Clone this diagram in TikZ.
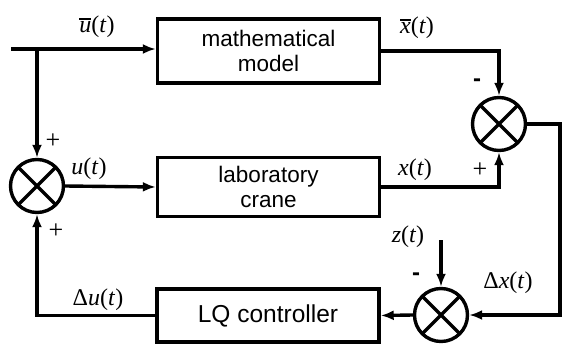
\documentclass[tikz,border=0pt]{standalone}
\usepackage{fontspec}
\setmainfont{Liberation Sans}
\newfontfamily\lblfont{Liberation Serif}
\usetikzlibrary{positioning,calc,arrows.meta}
\newcommand{\sig}[1]{\textit{#1}(\textit{t})}
\newcommand{\sigbar}[1]{\vbox{\hrule height 1.6pt\kern2pt\hbox{\textit{#1}}}(\textit{t})}

\begin{document}
\begin{tikzpicture}[x=1pt,y=-1pt,
  block/.style={rectangle, draw, line width=3.4pt, minimum width=222pt, inner sep=0pt, font=\fontsize{22.5}{25}\selectfont, align=center},
  sum/.style={circle, draw, line width=3.4pt, minimum size=53pt, inner sep=0pt,
    path picture={\draw[line width=3.4pt] (path picture bounding box.north west) -- (path picture bounding box.south east)
      (path picture bounding box.north east) -- (path picture bounding box.south west);}},
  lbl/.style={font=\lblfont\fontsize{24}{26}\selectfont, inner sep=0pt},
  sign/.style={font=\lblfont\fontsize{26}{28}\selectfont, inner sep=0pt},
  minus/.style={font=\fontsize{24}{26}\selectfont\bfseries, inner sep=0pt},
  arrow/.style={-{Latex[length=13pt,width=10pt]}, line width=3.4pt},
  line/.style={line width=3.4pt}
]
\useasboundingbox (0,0) rectangle (565,343);
\node[block, minimum height=64pt] (model) at (268.5,51) {mathematical\\model};
\node[block, minimum height=59pt] (crane) at (268.5,187) {laboratory\\crane};
\node[block, minimum height=53pt, font=\fontsize{24.5}{27}\selectfont] (lq) at (268,315.5) {LQ controller};
\node[sum] (sumL) at (37,186) {};
\node[sum] (sumR) at (499,124) {};
\node[sum] (sumB) at (441,315) {};
\coordinate (in) at (11,49);
\coordinate (split) at (37,49);
\coordinate (turn) at (560,124);
\coordinate (zin) at (441,240);
\draw[line] (in) -- (split);
\draw[arrow] (split) -- (model.west |- split);
\draw[arrow] (split) -- (sumL.north);
\draw[arrow] (sumL.east) -- (crane.west);
\draw[arrow] (model.east) -| (sumR.north);
\draw[arrow] (crane.east) -| (sumR.south);
\draw[arrow] (sumR.east) -- (turn) |- (sumB.east);
\draw[arrow] (zin) -- (sumB.north);
\draw[arrow] (sumB.west) -- (lq.east);
\draw[arrow] (lq.west) -| (sumL.south);
\node[lbl] (ubar) at (97,27) {\sigbar{u}};
\node[lbl] (xbar) at (417,28) {\sigbar{x}};
\node[lbl] (u) at (89,169) {\sig{u}};
\node[lbl] (x) at (415,170) {\sig{x}};
\node[lbl] (z) at (408,237) {\sig{z}};
\node[lbl] (dx) at (508,283) {Δ\sig{x}};
\node[lbl] (du) at (98,300) {Δ\sig{u}};
\node[sign] (pTL) at (53,141) {+};
\node[sign] (pBL) at (56,231) {+};
\node[sign] (pR) at (480,170) {+};
\node[minus] (mR) at (477,83) {-};
\node[minus] (mB) at (416,277) {-};
\end{tikzpicture}
\end{document}
